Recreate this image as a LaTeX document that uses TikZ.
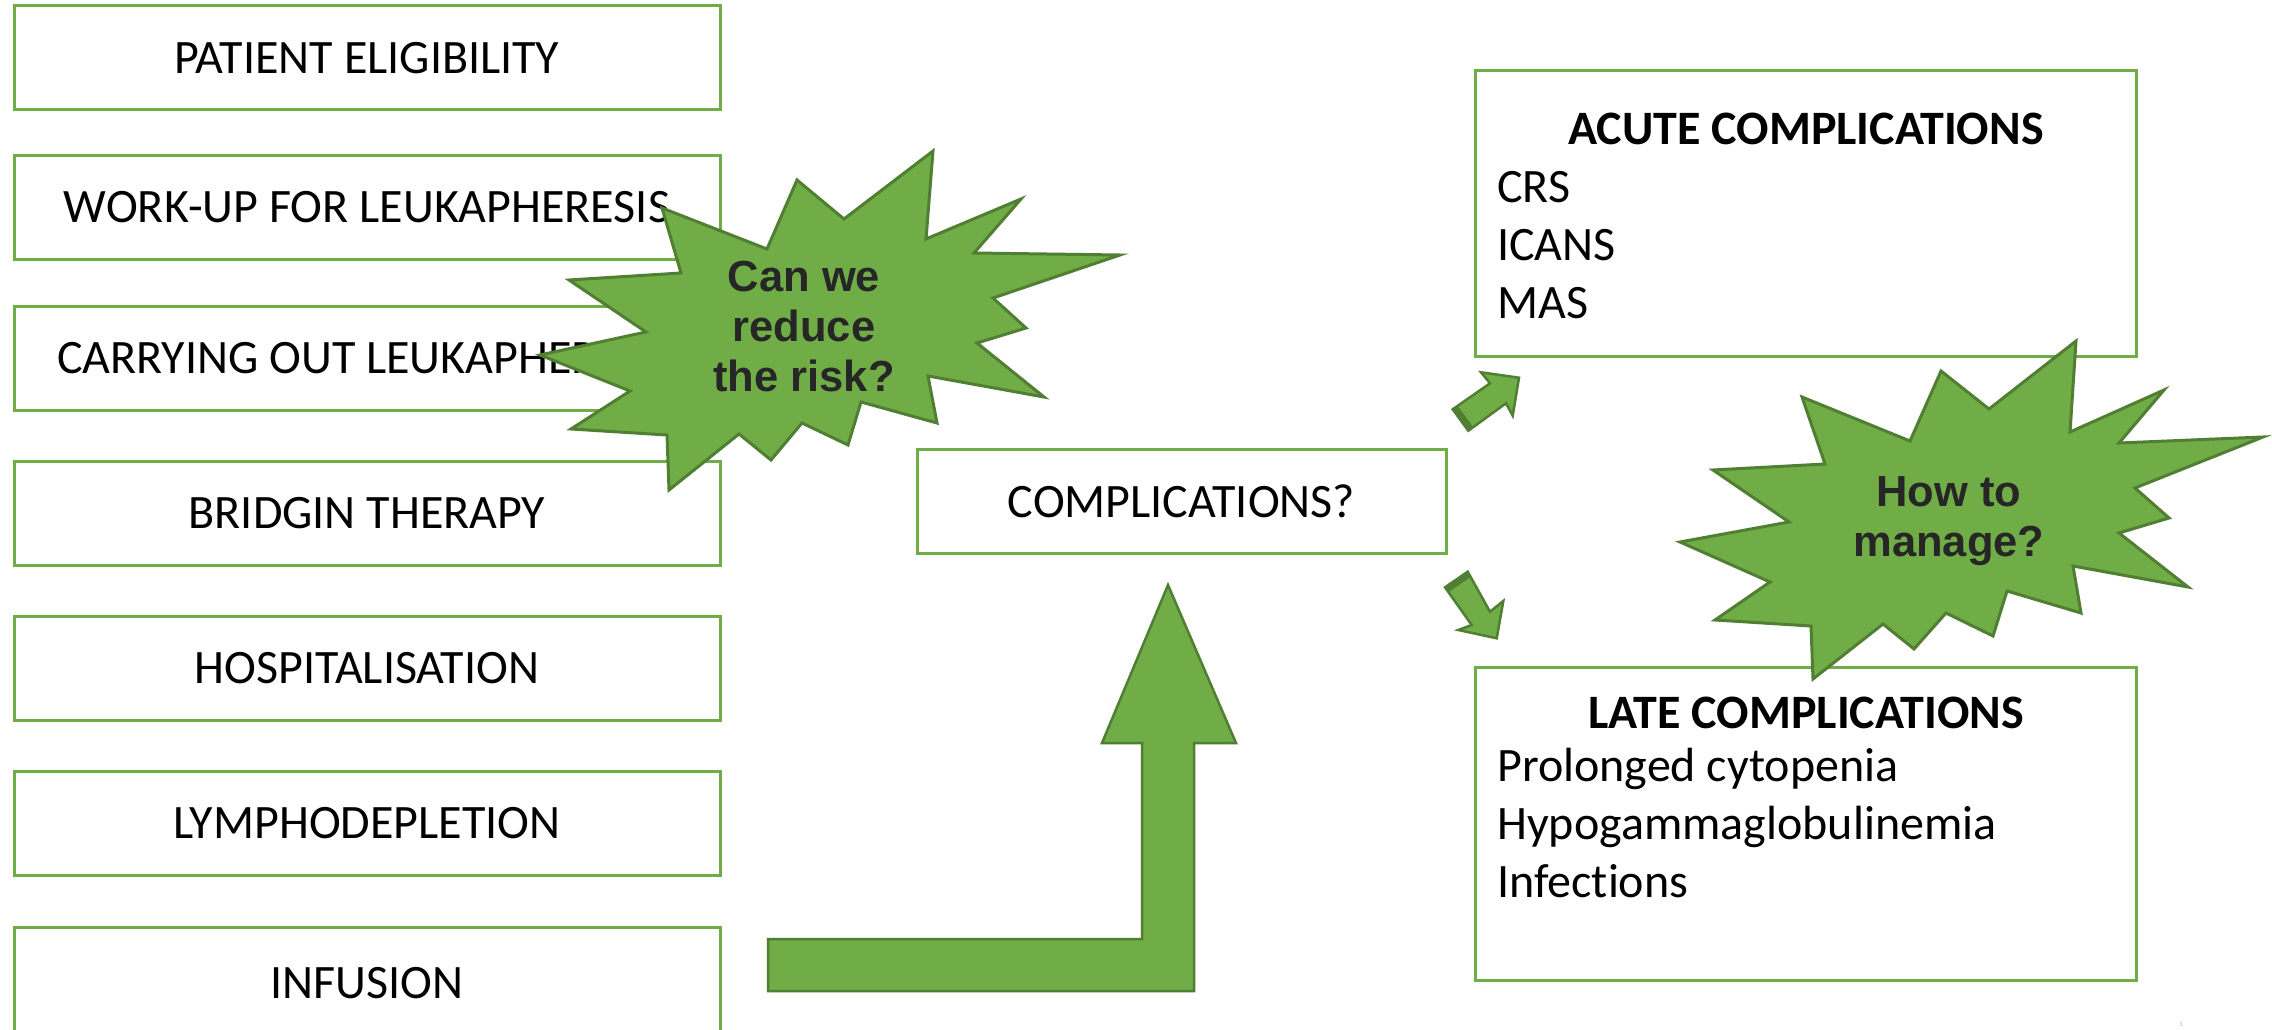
\documentclass[tikz,border=0pt]{standalone}
\usepackage{fontspec}
\setmainfont{Carlito}[Ligatures=NoCommon]
\newfontfamily\starfont{Liberation Sans}
\definecolor{officegreen}{HTML}{70AD47}
\definecolor{darkgreen}{HTML}{507E32}
\definecolor{startext}{HTML}{262626}
\definecolor{pagenum}{HTML}{A9C98F}

\begin{document}
\begin{tikzpicture}[x=1pt,y=-1pt,
  stepbox/.style={draw=officegreen, line width=3pt, fill=white,
    minimum width=706pt, minimum height=104pt, inner sep=0pt,
    font=\fontsize{48}{57}\selectfont},
  listbox/.style={draw=officegreen, line width=3pt, fill=white,
    minimum width=661pt, inner sep=0pt},
  heading/.style={anchor=base, inner sep=0pt, font=\bfseries\fontsize{48}{57}\selectfont},
  item/.style={anchor=base west, inner sep=0pt, font=\fontsize{48}{57}\selectfont},
  burst/.style={fill=officegreen, draw=darkgreen, line width=3pt, line join=miter},
  block/.style={fill=officegreen, draw=darkgreen, line width=2.5pt, line join=miter},
  blockside/.style={fill=darkgreen},
  bursttext/.style={font=\starfont\bfseries\fontsize{43.5}{50}\selectfont,
    text=startext, align=center, inner sep=0pt},
]
\useasboundingbox (0,0) rectangle (2272,1030);
\fill[white] (0,0) rectangle (2272,1030);

% process steps on the left
\node[stepbox] (elig)  at (367,58)  {PATIENT ELIGIBILITY};
\node[stepbox] (work)  at (367,207) {WORK-UP FOR LEUKAPHERESIS};
\node[stepbox] (carry) at (367,358) {CARRYING OUT LEUKAPHERESIS};
\node[stepbox] (bridge) at (367,513) {BRIDGIN THERAPY};
\node[stepbox] (hosp)  at (367,668) {HOSPITALISATION};
\node[stepbox] (lymph) at (367,823) {LYMPHODEPLETION};
\node[stepbox, minimum height=112pt] (inf) at (367,983) {INFUSION};

% central question
\node[stepbox, minimum width=529pt] (compl) at (1181.5,501) {COMPLICATIONS?};

% complication lists
\node[listbox, minimum height=285pt] (acute) at (1805.5,213.5) {};
\node[heading] (acuteh) at (1806,145) {ACUTE COMPLICATIONS};
\node[item] (crs)   at (1497,202) {CRS};
\node[item] (icans) at (1497,260) {ICANS};
\node[item] (mas)   at (1497,318) {MAS};

\node[listbox, minimum height=313pt] (late) at (1805.5,823.5) {};
\node[heading] (lateh) at (1806,728) {LATE COMPLICATIONS};
\node[item] (cyto)  at (1497,781) {Prolonged cytopenia};
\node[item] (hypo)  at (1497,839) {Hypogammaglobulinemia};
\node[item] (infec) at (1497,897) {Infections};

% bent arrow from infusion up to complications
\draw[block] (768,939) -- (1142,939) -- (1142,743) -- (1102,743) -- (1168,585)
  -- (1236,743) -- (1194,743) -- (1194,991) -- (768,991) -- cycle;

% small arrows towards acute and late complications
\draw[block] (1452.7,409.3) -- (1490,383.3) -- (1481,372.3) -- (1519,377.7)
  -- (1512.7,415.7) -- (1506,403.3) -- (1468.3,430.7) -- cycle;
\fill[blockside] (1452.7,409.3) -- (1468.3,430.7) -- (1473.2,427.2) -- (1457.6,405.8) -- cycle;
\draw[block] (1445,587.3) -- (1467.7,571.7) -- (1490,611.7) -- (1503.3,601)
  -- (1496.7,638.3) -- (1458.3,630) -- (1471.7,625) -- cycle;
\fill[blockside] (1445,587.3) -- (1467.7,571.7) -- (1470.9,576.8) -- (1448.2,592.4) -- cycle;

% starburst: reduce the risk
\draw[burst] (933,151) -- (926,239) -- (1021,199) -- (974,253) -- (1120,255)
  -- (993,298) -- (1026,328) -- (977,343) -- (1044,397) -- (928,376)
  -- (937,423) -- (861,402) -- (848,445) -- (802,423) -- (771,460)
  -- (739,434) -- (669,490) -- (667,435) -- (571,429) -- (630,391)
  -- (540,355) -- (646,332) -- (569,280) -- (681,273) -- (662,208)
  -- (767,249) -- (797,180) -- (844,219) -- cycle;
\node[bursttext] (risk) at (804,327) {Can we\\reduce\\the risk?};

% starburst: how to manage
\draw[burst] (2076,341) -- (2070,432) -- (2164,390) -- (2119,443) -- (2263,437)
  -- (2135,488) -- (2169,518) -- (2119,533) -- (2188,587) -- (2073,566)
  -- (2081,613) -- (2007,591) -- (1993,636) -- (1946,613) -- (1914,649)
  -- (1883,624) -- (1813,679) -- (1811,626) -- (1715,620) -- (1770,582)
  -- (1680,542) -- (1789,522) -- (1713,470) -- (1825,464) -- (1802,397)
  -- (1910,441) -- (1941,371) -- (1989,409) -- cycle;
\node[bursttext] (manage) at (1949,521) {How to\\manage?};

% slide number
\node[inner sep=0pt, text=pagenum, font=\fontsize{7}{8}\selectfont] (pg) at (2181,1024) {1};
\end{tikzpicture}
\end{document}
